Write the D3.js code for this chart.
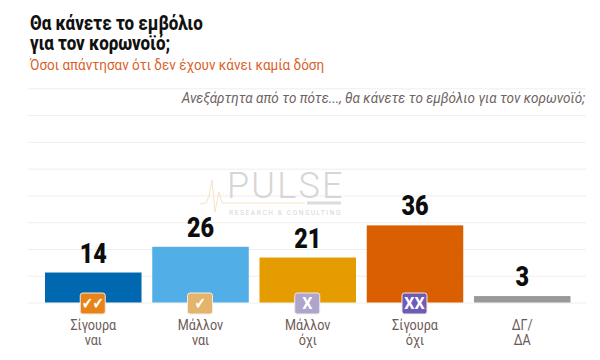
<!DOCTYPE html>
<html>
<head>
<meta charset="utf-8">
<script src="https://cdn.jsdelivr.net/npm/d3@7"></script>
<style>
html, body { margin: 0; padding: 0; background: #fff; }
svg { display: block; }
text { font-family: Roboto, sans-serif; }
</style>
</head>
<body>
<div id="chart"></div>
<script>
var categories = ["Σίγουρα ναι", "Μάλλον ναι", "Μάλλον όχι", "Σίγουρα όχι", "ΔΓ/ ΔΑ"];
var values = [14, 26, 21, 36, 3];
var barColors = ["#0068b0", "#52aee6", "#e59c00", "#d95f00", "#999999"];
var badgeColors = ["#e8831a", "#e3b56c", "#ada5cc", "#6f5bb5", null];
var badgeMarks = ["✔✔", "✔", "X", "XX", ""];
var gridTicks = [0, 12.5, 25, 37.5, 50, 62.5, 75, 87.5, 100];
var titleLines = ["Θα κάνετε το εμβόλιο", "για τον κορωνοϊό;"];

var width = 600, height = 360;
var svg = d3.select("#chart").append("svg").attr("width", width).attr("height", height);

var xScale = d3.scaleBand().domain(categories).range([45, 570.5]).paddingInner(0.1);
var yScale = d3.scaleLinear().domain([0, 100]).range([302.5, 88.3]);

// Condensed type is not installed, so squeeze Roboto horizontally
function label(parent, x, y, str, size, weight, fill, squeeze, anchor, style) {
	return parent.append("text")
		.attr("transform", "translate(" + x + "," + y + ") scale(" + squeeze + ",1)")
		.attr("text-anchor", anchor || "start")
		.style("font-size", size + "px")
		.style("font-weight", weight)
		.style("font-style", style || "normal")
		.attr("fill", fill)
		.text(str);
}

// Grid
var grid = svg.append("g").attr("class", "grid").attr("transform", "translate(28,0)")
	.call(d3.axisLeft(yScale).tickValues(gridTicks).tickSize(-558).tickFormat(""));
grid.select(".domain").remove();
grid.selectAll(".tick line").attr("stroke", "#f1eeea").attr("stroke-width", 1);

// Titles
var title = label(svg, 30, 30, "", 19.5, 800, "#111111", 0.87);
title.selectAll("tspan").data(titleLines).enter().append("tspan")
	.attr("x", 0)
	.attr("y", function(d, i) { return i * 20.5; })
	.text(function(d) { return d; });
label(svg, 30, 69.5, "Όσοι απάντησαν ότι δεν έχουν κάνει καμία δόση", 15.5, 400, "#d9622b", 0.87);
label(svg, 585, 103, "Ανεξάρτητα από το πότε..., θα κάνετε το εμβόλιο για τον κορωνοϊό;", 14.5, 400, "#6d6360", 0.935, "end", "italic");

// Watermark
var mark = svg.append("g").attr("class", "watermark");
mark.append("path")
	.attr("d", "M200,204 L206,203 L209,196 L212,180 L215,212 L219,192 L222,203 L305,203")
	.attr("fill", "none").attr("stroke", "#f6e3c6").attr("stroke-width", 1);
label(mark, 227, 198, "PULSE", 36, 300, "#d6d6d6", 1).style("letter-spacing", "2.2px");
label(mark, 229, 215, "RESEARCH & CONSULTING", 6.6, 400, "#d6d6d6", 1).style("letter-spacing", "1.6px");
mark.append("rect").attr("x", 307).attr("y", 201.5).attr("width", 34).attr("height", 3).attr("fill", "#dcdcdc");

// Bars
var bars = svg.append("g").attr("class", "chart-body");
bars.selectAll(".bar").data(categories).enter().append("rect")
	.attr("class", "bar")
	.attr("x", function(d) { return xScale(d); })
	.attr("y", function(d, i) { return yScale(values[i]); })
	.attr("width", xScale.bandwidth())
	.attr("height", function(d, i) { return yScale(0) - yScale(values[i]); })
	.style("fill", function(d, i) { return barColors[i]; });

// Value labels
categories.forEach(function(d, i) {
	var cx = xScale(d) + xScale.bandwidth() / 2;
	label(svg, cx, yScale(values[i]) - 10, values[i], 28.5, 900, "#0d0d0d", 0.82, "middle");
});

// Badges on the baseline
categories.forEach(function(d, i) {
	if (!badgeColors[i]) return;
	var cx = xScale(d) + xScale.bandwidth() / 2 - 0.5;
	var g = svg.append("g").attr("class", "badge");
	g.append("rect")
		.attr("x", cx - 12.5).attr("y", yScale(0) - 9.5)
		.attr("width", 25).attr("height", 21).attr("rx", 2.5)
		.attr("fill", badgeColors[i]).attr("stroke", "#f3ece2").attr("stroke-width", 1);
	var tick = badgeMarks[i].indexOf("✔") >= 0;
	label(g, cx, yScale(0) + (tick ? 6.5 : 6.5), badgeMarks[i], tick ? 16 : 16, 700, "#ffffff", tick ? 0.8 : 1, "middle")
		.style("font-family", tick ? "'DejaVu Sans'" : "Roboto");
});

// Category labels, one word per line
var xAxis = svg.append("g").attr("class", "x axis").attr("transform", "translate(0,302.5)")
	.call(d3.axisBottom(xScale).tickSize(0).tickFormat(""));
xAxis.select(".domain").remove();
xAxis.selectAll(".tick").each(function(d) {
	var tick = d3.select(this);
	tick.select("text").remove();
	d.split(" ").forEach(function(word, j) {
		label(tick, 0, 27 + j * 15, word, 14, 400, "#6b5a55", 0.9, "middle");
	});
});
</script>
</body>
</html>
